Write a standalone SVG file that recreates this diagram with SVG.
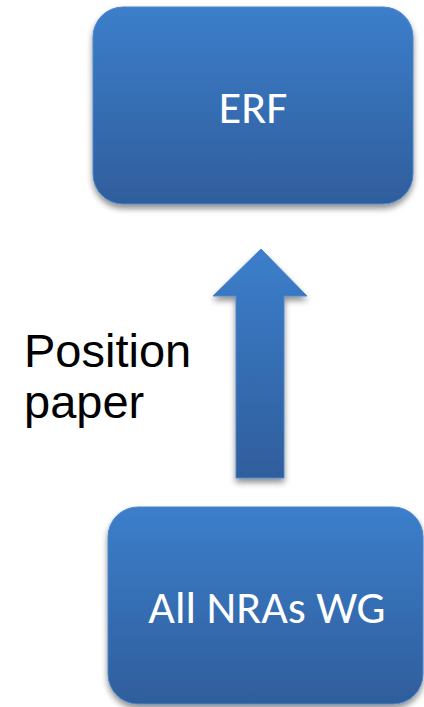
<svg xmlns="http://www.w3.org/2000/svg" width="424" height="707" viewBox="0 0 424 707">
<defs>
<linearGradient id="g" x1="0" y1="0" x2="0" y2="1">
<stop offset="0" stop-color="#3c7ecb"/>
<stop offset="1" stop-color="#2f5e9c"/>
</linearGradient>
<filter id="sh" x="-10%" y="-10%" width="120%" height="125%">
<feGaussianBlur in="SourceAlpha" stdDeviation="3"/>
<feOffset dx="0" dy="4" result="b"/>
<feComponentTransfer><feFuncA type="linear" slope="0.45"/></feComponentTransfer>
<feMerge><feMergeNode/><feMergeNode in="SourceGraphic"/></feMerge>
</filter>
<style>
.box{fill:url(#g);stroke:#4a86cc;stroke-width:1;filter:url(#sh)}
.lbl{font-family:Calibri,Carlito,"Open Sans","DejaVu Sans",sans-serif;fill:#fff;text-anchor:middle;font-size:46px}
.cap{font-family:"Liberation Sans",Arial,sans-serif;fill:#000;font-size:47px}
</style>
</defs>
<g id="erf">
<rect class="box" x="93" y="7" width="320" height="197" rx="30"/>
<text class="lbl" x="253" y="123">ERF</text>
</g>
<g id="connectors">
<path class="box" d="M261 249 L307 296 L284 296 L284 478 L236 478 L236 296 L213 296 Z"/>
<text class="cap" x="24" y="367">Position</text>
<text class="cap" x="24" y="418">paper</text>
</g>
<g id="nras">
<rect class="box" x="108" y="507" width="315" height="197" rx="30"/>
<text class="lbl" x="267" y="623">All NRAs WG</text>
</g>
</svg>
